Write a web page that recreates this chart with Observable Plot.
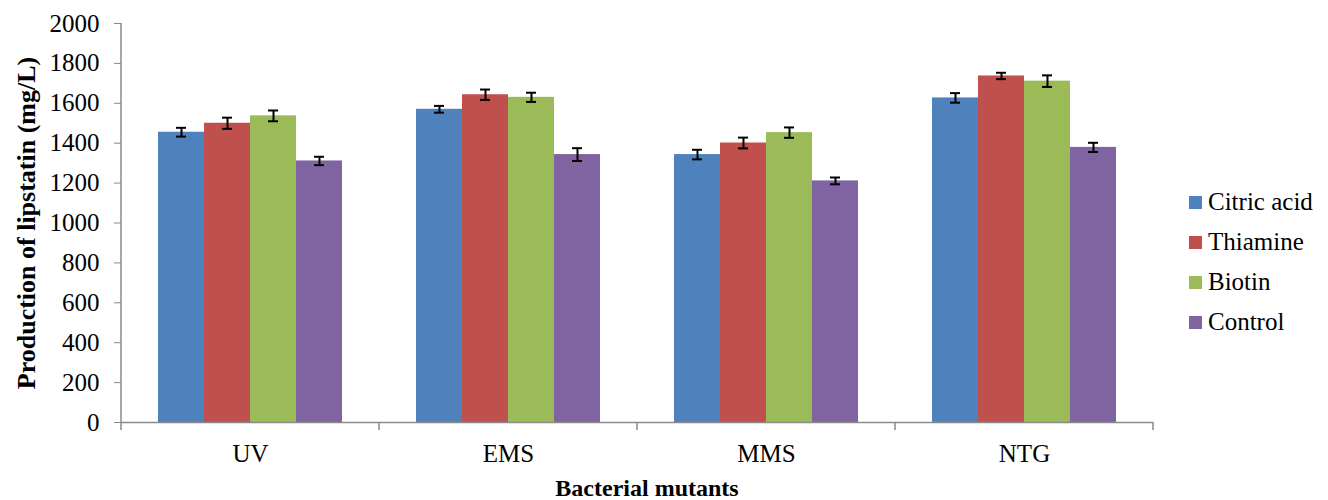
<!DOCTYPE html>
<html>
<head>
<meta charset="utf-8">
<script src="https://cdn.jsdelivr.net/npm/d3@7"></script>
<script src="https://cdn.jsdelivr.net/npm/@observablehq/plot@0.6"></script>
<style>
  body { margin: 0; background: #fff; }
  #wrap { position: relative; width: 1328px; height: 500px; font-family: "Liberation Serif", "Times New Roman", serif; color: #000; }
  #chart svg { display: block; }
  g[aria-label="y-axis label"] text { font-weight: bold; font-size: 26px; }
  #legend { position: absolute; left: 1189px; top: 182px; font-family: "Liberation Serif", serif; }
  .item { display: flex; align-items: center; height: 40px; line-height: 40px; font-size: 25px; white-space: nowrap; font-family: "Liberation Serif", serif; }
  .sw { width: 13px; height: 13px; margin-right: 6px; flex: none; }
  #xtitle { position: absolute; left: 447px; width: 400px; top: 476px; text-align: center; font-weight: bold; font-size: 24px; line-height: 24px; white-space: nowrap; font-family: "Liberation Serif", serif; }
</style>
</head>
<body>
<div id="wrap">
  <div id="chart"></div>
  <div id="legend"></div>
  <div id="xtitle">Bacterial mutants</div>
</div>
<script>
// ---- data ----
const categories = ["UV", "EMS", "MMS", "NTG"];
const series = ["Citric acid", "Thiamine", "Biotin", "Control"];
const citric   = [1455, 1570, 1343, 1627];
const thiamine = [1500, 1643, 1401, 1737];
const biotin   = [1537, 1630, 1453, 1711];
const control  = [1311, 1343, 1211, 1379];
const citricErr   = [22, 17, 24, 24];
const thiamineErr = [28, 26, 27, 16];
const biotinErr   = [27, 23, 26, 29];
const controlErr  = [21, 32, 17, 23];
const yTicks = [0, 200, 400, 600, 800, 1000, 1200, 1400, 1600, 1800, 2000];
const colors = ["#4F81BD", "#C0504D", "#9BBB59", "#8064A2"];

const values = [citric, thiamine, biotin, control];
const errors = [citricErr, thiamineErr, biotinErr, controlErr];
const table = categories.flatMap((c, i) =>
  series.map((s, j) => ({cat: c, series: s, value: values[j][i], err: errors[j][i]}))
);

const axisGray = "#8a8a8a";

const chart = Plot.plot({
  width: 1328,
  height: 500,
  marginLeft: 120,
  marginRight: 175,
  marginTop: 23,
  marginBottom: 78,
  style: {fontFamily: "'Liberation Serif', 'Times New Roman', serif", fontSize: "25px", color: "#000", background: "#fff"},
  fx: {domain: categories, paddingInner: 0, paddingOuter: 0, label: null},
  x: {domain: series, paddingInner: 0, paddingOuter: 0.745, axis: null},
  y: {domain: [0, 2000]},
  color: {domain: series, range: colors},
  marks: [
    Plot.barY(table, {fx: "cat", x: "series", y: "value", fill: "series"}),
    Plot.ruleX(table, {fx: "cat", x: "series", y1: d => d.value - d.err, y2: d => d.value + d.err, stroke: "#000", strokeWidth: 2}),
    Plot.tickY(table, {fx: "cat", x: "series", y: d => d.value - d.err, stroke: "#000", strokeWidth: 2, insetLeft: 18, insetRight: 18}),
    Plot.tickY(table, {fx: "cat", x: "series", y: d => d.value + d.err, stroke: "#000", strokeWidth: 2, insetLeft: 18, insetRight: 18}),
    Plot.ruleY([0], {stroke: axisGray, strokeWidth: 1.5}),
    Plot.axisY({ticks: yTicks, tickFormat: d => String(d), tickSize: 7, tickPadding: 15, stroke: axisGray, fill: "#000",
      label: "Production of lipstatin (mg/L)", labelAnchor: "center", labelOffset: 105, labelArrow: "none"}),
    Plot.axisFx({anchor: "bottom", tickSize: 0, tickPadding: 22, fill: "#000", label: null})
  ]
});

document.getElementById("chart").append(chart);

// axis line and category boundary ticks, placed through Plot's own scales
const fx = chart.scale("fx");
const ys = chart.scale("y");
const svg = d3.select(chart);
const y0 = ys.apply(0), yTop = ys.apply(2000);
const x0 = fx.apply(categories[0]);
svg.append("line").attr("x1", x0).attr("x2", x0).attr("y1", yTop).attr("y2", y0 + 8)
  .attr("stroke", axisGray).attr("stroke-width", 1.5);
const edges = categories.slice(1).map(c => fx.apply(c)).concat([fx.apply(categories[categories.length - 1]) + fx.bandwidth]);
edges.forEach(x => {
  svg.append("line").attr("x1", x).attr("x2", x).attr("y1", y0).attr("y2", y0 + 8)
    .attr("stroke", axisGray).attr("stroke-width", 1.5);
});

// legend
const legend = d3.select("#legend");
series.forEach((s, i) => {
  const it = legend.append("div").attr("class", "item");
  it.append("div").attr("class", "sw").style("background", colors[i]);
  it.append("span").text(s);
});
</script>
</body>
</html>
